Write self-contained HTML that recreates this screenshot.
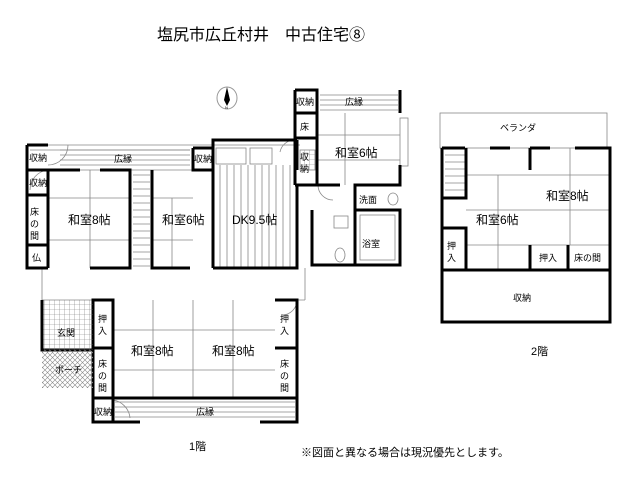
<!DOCTYPE html>
<html><head><meta charset="utf-8"><style>
html,body{margin:0;padding:0;background:#fff;}
svg{display:block;}
text{font-family:"Liberation Sans","Noto Sans CJK JP",sans-serif;fill:#000;}
</style></head><body>
<svg width="640" height="480" viewBox="0 0 640 480" xmlns="http://www.w3.org/2000/svg">
<defs>
<pattern id="grid" width="5" height="5" patternUnits="userSpaceOnUse"><path d="M5 0V5H0" fill="none" stroke="#777" stroke-width="0.6"/></pattern>
<pattern id="hatch" width="5" height="5" patternUnits="userSpaceOnUse"><path d="M0 0L5 5M5 0L0 5" stroke="#888" stroke-width="0.6"/></pattern>
</defs>
<text x="157" y="40" font-size="16">塩尻市広丘村井　中古住宅⑧</text>
<ellipse cx="227" cy="98" rx="10" ry="11" fill="none" stroke="#999"/>
<polygon points="227,87 224,100 227,106 230,100" fill="#000"/>
<text x="225" y="109" font-size="4">N</text>

<g fill="none" stroke="#888" stroke-width="0.8">
<path d="M48 145H300M48 170H213M30 150H190"/>
<path d="M60 150H190M60 155H190M60 160H190M60 165H190"/>
<path d="M320 95H398M320 100H398M320 105H398M320 110H398"/>
<path d="M115 402H295M115 407H295M115 412H295M115 417H295"/>
<path d="M48 198H130M48 240H130M90 170V268M152 198H193M152 240H193M172 198V268"/>
<path d="M317 135H400M317 160H400M345 113V185"/>
<path d="M113 330H193M113 370H193M153 300V398M193 330H275M193 370H275M233 300V398M193 300V398"/>
<path d="M220 165V268M227 165V268M234 165V268M241 165V268M248 165V268M255 165V268M262 165V268M269 165V268M276 165V268M283 165V268M290 165V268"/>
<rect x="216" y="148" width="30" height="16"/><rect x="250" y="148" width="22" height="16"/>
<path d="M133 175H150M133 182H150M133 189H150M133 196H150M133 203H150M133 210H150M133 217H150M133 224H150M133 231H150M133 238H150M133 245H150M133 252H150M133 259H150M133 266H150"/>
<path d="M42 268V300M305 268V300M42 300H93M297 300H305"/>
<rect x="400" y="118" width="8" height="48"/>
<rect x="300" y="150" width="15" height="20" fill="url(#grid)"/>
<rect x="360" y="215" width="35" height="45"/>
<ellipse cx="393" cy="199" rx="5" ry="6"/>
<ellipse cx="340" cy="255" rx="5" ry="7"/><rect x="334" y="216" width="14" height="12"/>
<path d="M48 170A20 20 0 0 0 30 190M68 145A20 20 0 0 1 48 165M293 140A15 15 0 0 0 280 152M318 185A15 15 0 0 0 333 200M297 300A15 15 0 0 1 282 315M113 400A20 20 0 0 1 130 418"/>
<rect x="440" y="113" width="167" height="35"/>
<path d="M466 175H530M466 210H530M466 245H530M498 175V270M530 175H610M530 210H610M570 148V245"/>
<path d="M445 155H465M445 162H465M445 169H465M445 176H465M445 183H465M445 190H465M445 197H465"/>
<path d="M530 245H610"/>
</g>

<g fill="none" stroke="#000" stroke-width="3">
<path d="M27 145V268H48M27 145H48M48 170V268"/>
<path d="M48 170H80M100 170H130V268H90"/>
<path d="M27 170H48M27 195H48M27 245H48"/>
<path d="M152 170V268H190M193 148V170H213M193 148H213"/>
<path d="M213 268V140H297M213 268H297V185M297 140V170"/>
<path d="M295 90H317V185H295M295 90V185M295 113H317M295 138H317"/>
<path d="M400 90V113M400 165V185H355V265H312V210M355 210H400V265H355"/>
<path d="M317 185H340"/>
<path d="M93 300H113V422H93ZM93 348H113M93 398H297"/>
<path d="M275 300H297V422H275M275 348H297"/>
<path d="M113 422H140M260 422H297"/>
<path d="M42 300V350H93"/>
<path d="M442 148V322H610V148H575M550 148H530M442 148H465M490 148H510"/>
<path d="M442 270H610M442 228H466V270M530 245V270M568 245V270M530 148V170"/>
<path d="M442 198H466V148"/>
</g>
<rect x="42" y="300" width="51" height="50" fill="url(#grid)" stroke="none"/>
<rect x="42" y="350" width="51" height="38" fill="url(#hatch)" stroke="none"/>
<path d="M42 300V350" stroke="#000" stroke-width="3"/>

<g font-size="9">
<text x="29" y="161">収納</text><text x="29" y="186">収納</text>
<text x="114" y="162">広縁</text><text x="194" y="162">収納</text>
<text x="30" y="215">床</text><text x="30" y="227">の</text><text x="30" y="239">間</text>
<text x="32" y="261">仏</text>
<text x="296" y="105">収納</text><text x="345" y="105">広縁</text><text x="300" y="130">床</text>
<text x="300" y="160">収</text><text x="300" y="172">納</text>
<text x="359" y="203">洗面</text><text x="362" y="247">浴室</text>
<text x="98" y="322">押</text><text x="98" y="334">入</text>
<text x="98" y="367">床</text><text x="98" y="379">の</text><text x="98" y="391">間</text>
<text x="94" y="415">収納</text><text x="196" y="415">広縁</text>
<text x="280" y="322">押</text><text x="280" y="334">入</text>
<text x="280" y="367">床</text><text x="280" y="379">の</text><text x="280" y="391">間</text>
<text x="57" y="336">玄関</text><text x="55" y="373">ポーチ</text>
<text x="500" y="131">ベランダ</text>
<text x="447" y="249">押</text><text x="447" y="261">入</text>
<text x="539" y="261">押入</text><text x="574" y="261">床の間</text>
<text x="513" y="301">収納</text>
</g>
<g font-size="12">
<text x="68" y="224">和室8帖</text><text x="162" y="224">和室6帖</text>
<text x="232" y="224">DK9.5帖</text><text x="335" y="157">和室6帖</text>
<text x="131" y="355">和室8帖</text><text x="212" y="355">和室8帖</text>
<text x="476" y="224">和室6帖</text><text x="546" y="200">和室8帖</text>
</g>
<g font-size="11">
<text x="189" y="450">1階</text><text x="531" y="355">2階</text>
<text x="301" y="456">※図面と異なる場合は現況優先とします。</text>
</g>
</svg>
</body></html>
